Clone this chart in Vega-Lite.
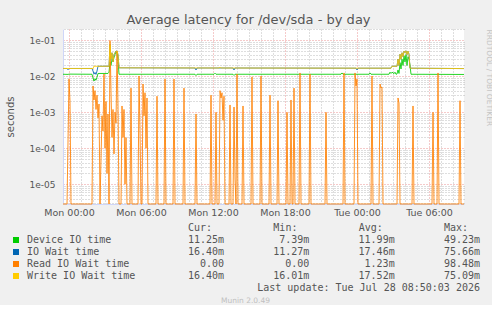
{
  "$schema": "https://vega.github.io/schema/vega-lite/v6.json",
  "background": "#F0F0F0",
  "padding": {"left": 5, "top": 14, "right": 0, "bottom": 0},
  "title": {"text": "Average latency for /dev/sda - by day", "font": "DejaVu Sans", "fontSize": 13, "fontWeight": "normal", "color": "#555555", "anchor": "middle", "frame": "bounds", "offset": 2},
  "spacing": 5,
  "resolve": {"scale": {"color": "independent"}, "legend": {"color": "independent"}},
  "datasets": {
    "lat": [
      {"t": "2026-07-26T23:30", "s": "Device IO time", "v": 0.0114},
      {"t": "2026-07-26T23:55", "s": "Device IO time", "v": 0.0113},
      {"t": "2026-07-27T00:00", "s": "Device IO time", "v": 0.0115},
      {"t": "2026-07-27T01:55", "s": "Device IO time", "v": 0.0114},
      {"t": "2026-07-27T02:00", "s": "Device IO time", "v": 0.009},
      {"t": "2026-07-27T02:05", "s": "Device IO time", "v": 0.0074},
      {"t": "2026-07-27T02:10", "s": "Device IO time", "v": 0.0085},
      {"t": "2026-07-27T02:15", "s": "Device IO time", "v": 0.0078},
      {"t": "2026-07-27T02:20", "s": "Device IO time", "v": 0.0095},
      {"t": "2026-07-27T02:25", "s": "Device IO time", "v": 0.012},
      {"t": "2026-07-27T03:15", "s": "Device IO time", "v": 0.012},
      {"t": "2026-07-27T03:20", "s": "Device IO time", "v": 0.013},
      {"t": "2026-07-27T03:25", "s": "Device IO time", "v": 0.025},
      {"t": "2026-07-27T03:30", "s": "Device IO time", "v": 0.02},
      {"t": "2026-07-27T03:35", "s": "Device IO time", "v": 0.03},
      {"t": "2026-07-27T03:40", "s": "Device IO time", "v": 0.026},
      {"t": "2026-07-27T03:45", "s": "Device IO time", "v": 0.033},
      {"t": "2026-07-27T03:50", "s": "Device IO time", "v": 0.04},
      {"t": "2026-07-27T03:55", "s": "Device IO time", "v": 0.0492},
      {"t": "2026-07-27T04:00", "s": "Device IO time", "v": 0.045},
      {"t": "2026-07-27T04:05", "s": "Device IO time", "v": 0.03},
      {"t": "2026-07-27T04:10", "s": "Device IO time", "v": 0.0114},
      {"t": "2026-07-27T10:30", "s": "Device IO time", "v": 0.0114},
      {"t": "2026-07-27T10:35", "s": "Device IO time", "v": 0.0105},
      {"t": "2026-07-27T10:40", "s": "Device IO time", "v": 0.0114},
      {"t": "2026-07-27T12:05", "s": "Device IO time", "v": 0.0114},
      {"t": "2026-07-27T12:10", "s": "Device IO time", "v": 0.0122},
      {"t": "2026-07-27T12:15", "s": "Device IO time", "v": 0.0114},
      {"t": "2026-07-27T13:40", "s": "Device IO time", "v": 0.0114},
      {"t": "2026-07-27T13:45", "s": "Device IO time", "v": 0.0106},
      {"t": "2026-07-27T13:50", "s": "Device IO time", "v": 0.0114},
      {"t": "2026-07-27T22:40", "s": "Device IO time", "v": 0.0114},
      {"t": "2026-07-27T22:45", "s": "Device IO time", "v": 0.0124},
      {"t": "2026-07-27T22:50", "s": "Device IO time", "v": 0.0114},
      {"t": "2026-07-28T01:00", "s": "Device IO time", "v": 0.0114},
      {"t": "2026-07-28T01:05", "s": "Device IO time", "v": 0.0124},
      {"t": "2026-07-28T01:10", "s": "Device IO time", "v": 0.0114},
      {"t": "2026-07-28T02:40", "s": "Device IO time", "v": 0.0114},
      {"t": "2026-07-28T02:45", "s": "Device IO time", "v": 0.013},
      {"t": "2026-07-28T02:50", "s": "Device IO time", "v": 0.012},
      {"t": "2026-07-28T02:55", "s": "Device IO time", "v": 0.013},
      {"t": "2026-07-28T03:00", "s": "Device IO time", "v": 0.0125},
      {"t": "2026-07-28T03:05", "s": "Device IO time", "v": 0.0118},
      {"t": "2026-07-28T03:10", "s": "Device IO time", "v": 0.013},
      {"t": "2026-07-28T03:15", "s": "Device IO time", "v": 0.0114},
      {"t": "2026-07-28T03:20", "s": "Device IO time", "v": 0.0116},
      {"t": "2026-07-28T03:25", "s": "Device IO time", "v": 0.015},
      {"t": "2026-07-28T03:30", "s": "Device IO time", "v": 0.012},
      {"t": "2026-07-28T03:35", "s": "Device IO time", "v": 0.024},
      {"t": "2026-07-28T03:40", "s": "Device IO time", "v": 0.016},
      {"t": "2026-07-28T03:45", "s": "Device IO time", "v": 0.03},
      {"t": "2026-07-28T03:50", "s": "Device IO time", "v": 0.02},
      {"t": "2026-07-28T03:55", "s": "Device IO time", "v": 0.037},
      {"t": "2026-07-28T04:00", "s": "Device IO time", "v": 0.025},
      {"t": "2026-07-28T04:05", "s": "Device IO time", "v": 0.04},
      {"t": "2026-07-28T04:10", "s": "Device IO time", "v": 0.02},
      {"t": "2026-07-28T04:15", "s": "Device IO time", "v": 0.035},
      {"t": "2026-07-28T04:20", "s": "Device IO time", "v": 0.03},
      {"t": "2026-07-28T04:25", "s": "Device IO time", "v": 0.02},
      {"t": "2026-07-28T04:30", "s": "Device IO time", "v": 0.0114},
      {"t": "2026-07-28T08:55", "s": "Device IO time", "v": 0.01125},

      {"t": "2026-07-26T23:30", "s": "IO Wait time", "v": 0.0165},
      {"t": "2026-07-26T23:50", "s": "IO Wait time", "v": 0.0165},
      {"t": "2026-07-26T23:55", "s": "IO Wait time", "v": 0.0152},
      {"t": "2026-07-27T00:00", "s": "IO Wait time", "v": 0.0165},
      {"t": "2026-07-27T01:55", "s": "IO Wait time", "v": 0.0165},
      {"t": "2026-07-27T02:00", "s": "IO Wait time", "v": 0.014},
      {"t": "2026-07-27T02:05", "s": "IO Wait time", "v": 0.0115},
      {"t": "2026-07-27T02:10", "s": "IO Wait time", "v": 0.0128},
      {"t": "2026-07-27T02:15", "s": "IO Wait time", "v": 0.0113},
      {"t": "2026-07-27T02:20", "s": "IO Wait time", "v": 0.014},
      {"t": "2026-07-27T02:25", "s": "IO Wait time", "v": 0.019},
      {"t": "2026-07-27T03:20", "s": "IO Wait time", "v": 0.019},
      {"t": "2026-07-27T03:25", "s": "IO Wait time", "v": 0.0757},
      {"t": "2026-07-27T03:30", "s": "IO Wait time", "v": 0.03},
      {"t": "2026-07-27T03:35", "s": "IO Wait time", "v": 0.045},
      {"t": "2026-07-27T03:40", "s": "IO Wait time", "v": 0.025},
      {"t": "2026-07-27T03:45", "s": "IO Wait time", "v": 0.04},
      {"t": "2026-07-27T03:50", "s": "IO Wait time", "v": 0.045},
      {"t": "2026-07-27T03:55", "s": "IO Wait time", "v": 0.05},
      {"t": "2026-07-27T04:00", "s": "IO Wait time", "v": 0.05},
      {"t": "2026-07-27T04:05", "s": "IO Wait time", "v": 0.04},
      {"t": "2026-07-27T04:10", "s": "IO Wait time", "v": 0.0172},
      {"t": "2026-07-27T10:30", "s": "IO Wait time", "v": 0.017},
      {"t": "2026-07-27T10:35", "s": "IO Wait time", "v": 0.015},
      {"t": "2026-07-27T10:40", "s": "IO Wait time", "v": 0.017},
      {"t": "2026-07-27T13:40", "s": "IO Wait time", "v": 0.017},
      {"t": "2026-07-27T13:45", "s": "IO Wait time", "v": 0.015},
      {"t": "2026-07-27T13:50", "s": "IO Wait time", "v": 0.017},
      {"t": "2026-07-27T23:55", "s": "IO Wait time", "v": 0.0168},
      {"t": "2026-07-28T00:00", "s": "IO Wait time", "v": 0.015},
      {"t": "2026-07-28T00:05", "s": "IO Wait time", "v": 0.0168},
      {"t": "2026-07-28T02:50", "s": "IO Wait time", "v": 0.0168},
      {"t": "2026-07-28T02:55", "s": "IO Wait time", "v": 0.019},
      {"t": "2026-07-28T03:20", "s": "IO Wait time", "v": 0.019},
      {"t": "2026-07-28T03:25", "s": "IO Wait time", "v": 0.03},
      {"t": "2026-07-28T03:30", "s": "IO Wait time", "v": 0.02},
      {"t": "2026-07-28T03:35", "s": "IO Wait time", "v": 0.041},
      {"t": "2026-07-28T03:40", "s": "IO Wait time", "v": 0.03},
      {"t": "2026-07-28T03:45", "s": "IO Wait time", "v": 0.045},
      {"t": "2026-07-28T03:50", "s": "IO Wait time", "v": 0.035},
      {"t": "2026-07-28T03:55", "s": "IO Wait time", "v": 0.05},
      {"t": "2026-07-28T04:00", "s": "IO Wait time", "v": 0.045},
      {"t": "2026-07-28T04:05", "s": "IO Wait time", "v": 0.051},
      {"t": "2026-07-28T04:10", "s": "IO Wait time", "v": 0.04},
      {"t": "2026-07-28T04:15", "s": "IO Wait time", "v": 0.05},
      {"t": "2026-07-28T04:20", "s": "IO Wait time", "v": 0.041},
      {"t": "2026-07-28T04:25", "s": "IO Wait time", "v": 0.0168},
      {"t": "2026-07-28T08:55", "s": "IO Wait time", "v": 0.0164},

      {"t": "2026-07-26T23:30", "s": "Read IO Wait time", "v": 0},
      {"t": "2026-07-26T23:50", "s": "Read IO Wait time", "v": 0},
      {"t": "2026-07-27T00:00", "s": "Read IO Wait time", "v": 0.0084},
      {"t": "2026-07-27T00:05", "s": "Read IO Wait time", "v": 0.002},
      {"t": "2026-07-27T00:10", "s": "Read IO Wait time", "v": 0},
      {"t": "2026-07-27T01:55", "s": "Read IO Wait time", "v": 0},
      {"t": "2026-07-27T02:00", "s": "Read IO Wait time", "v": 0.0054},
      {"t": "2026-07-27T02:05", "s": "Read IO Wait time", "v": 0.0022},
      {"t": "2026-07-27T02:10", "s": "Read IO Wait time", "v": 0.004},
      {"t": "2026-07-27T02:15", "s": "Read IO Wait time", "v": 0.0012},
      {"t": "2026-07-27T02:20", "s": "Read IO Wait time", "v": 0.003},
      {"t": "2026-07-27T02:25", "s": "Read IO Wait time", "v": 0.0007},
      {"t": "2026-07-27T02:30", "s": "Read IO Wait time", "v": 0.0017},
      {"t": "2026-07-27T02:35", "s": "Read IO Wait time", "v": 0},
      {"t": "2026-07-27T02:40", "s": "Read IO Wait time", "v": 0.00005},
      {"t": "2026-07-27T02:45", "s": "Read IO Wait time", "v": 0.0008},
      {"t": "2026-07-27T02:50", "s": "Read IO Wait time", "v": 0.0003},
      {"t": "2026-07-27T02:55", "s": "Read IO Wait time", "v": 0.0116},
      {"t": "2026-07-27T03:00", "s": "Read IO Wait time", "v": 0.0001},
      {"t": "2026-07-27T03:05", "s": "Read IO Wait time", "v": 0.002},
      {"t": "2026-07-27T03:10", "s": "Read IO Wait time", "v": 0.00002},
      {"t": "2026-07-27T03:15", "s": "Read IO Wait time", "v": 0.0009},
      {"t": "2026-07-27T03:20", "s": "Read IO Wait time", "v": 0},
      {"t": "2026-07-27T03:25", "s": "Read IO Wait time", "v": 0.0985},
      {"t": "2026-07-27T03:30", "s": "Read IO Wait time", "v": 0.004},
      {"t": "2026-07-27T03:35", "s": "Read IO Wait time", "v": 0.0002},
      {"t": "2026-07-27T03:40", "s": "Read IO Wait time", "v": 0.0012},
      {"t": "2026-07-27T03:45", "s": "Read IO Wait time", "v": 0.00007},
      {"t": "2026-07-27T03:50", "s": "Read IO Wait time", "v": 0.001},
      {"t": "2026-07-27T03:55", "s": "Read IO Wait time", "v": 0.0005},
      {"t": "2026-07-27T04:00", "s": "Read IO Wait time", "v": 0.05},
      {"t": "2026-07-27T04:05", "s": "Read IO Wait time", "v": 0.0015},
      {"t": "2026-07-27T04:10", "s": "Read IO Wait time", "v": 0},
      {"t": "2026-07-27T04:20", "s": "Read IO Wait time", "v": 0},
      {"t": "2026-07-27T04:25", "s": "Read IO Wait time", "v": 0.0015},
      {"t": "2026-07-27T04:30", "s": "Read IO Wait time", "v": 0.0002},
      {"t": "2026-07-27T04:35", "s": "Read IO Wait time", "v": 0.0012},
      {"t": "2026-07-27T04:40", "s": "Read IO Wait time", "v": 0.00001},
      {"t": "2026-07-27T04:45", "s": "Read IO Wait time", "v": 0.0002},
      {"t": "2026-07-27T04:50", "s": "Read IO Wait time", "v": 0},
      {"t": "2026-07-27T05:05", "s": "Read IO Wait time", "v": 0},
      {"t": "2026-07-27T05:10", "s": "Read IO Wait time", "v": 0.0047},
      {"t": "2026-07-27T05:15", "s": "Read IO Wait time", "v": 0},
      {"t": "2026-07-27T05:45", "s": "Read IO Wait time", "v": 0},
      {"t": "2026-07-27T05:50", "s": "Read IO Wait time", "v": 0.0102},
      {"t": "2026-07-27T05:55", "s": "Read IO Wait time", "v": 0.0003},
      {"t": "2026-07-27T06:00", "s": "Read IO Wait time", "v": 0},
      {"t": "2026-07-27T06:05", "s": "Read IO Wait time", "v": 0},
      {"t": "2026-07-27T06:10", "s": "Read IO Wait time", "v": 0.0061},
      {"t": "2026-07-27T06:15", "s": "Read IO Wait time", "v": 0.0008},
      {"t": "2026-07-27T06:20", "s": "Read IO Wait time", "v": 0.0035},
      {"t": "2026-07-27T06:25", "s": "Read IO Wait time", "v": 0.0001},
      {"t": "2026-07-27T06:30", "s": "Read IO Wait time", "v": 0.0025},
      {"t": "2026-07-27T06:35", "s": "Read IO Wait time", "v": 0},
      {"t": "2026-07-27T07:15", "s": "Read IO Wait time", "v": 0},
      {"t": "2026-07-27T07:20", "s": "Read IO Wait time", "v": 0.0028},
      {"t": "2026-07-27T07:25", "s": "Read IO Wait time", "v": 0},
      {"t": "2026-07-27T07:55", "s": "Read IO Wait time", "v": 0},
      {"t": "2026-07-27T08:00", "s": "Read IO Wait time", "v": 0.0084},
      {"t": "2026-07-27T08:05", "s": "Read IO Wait time", "v": 0},
      {"t": "2026-07-27T08:40", "s": "Read IO Wait time", "v": 0},
      {"t": "2026-07-27T08:45", "s": "Read IO Wait time", "v": 0.0084},
      {"t": "2026-07-27T08:50", "s": "Read IO Wait time", "v": 0},
      {"t": "2026-07-27T09:30", "s": "Read IO Wait time", "v": 0},
      {"t": "2026-07-27T09:35", "s": "Read IO Wait time", "v": 0.0047},
      {"t": "2026-07-27T09:40", "s": "Read IO Wait time", "v": 0},
      {"t": "2026-07-27T10:30", "s": "Read IO Wait time", "v": 0},
      {"t": "2026-07-27T10:35", "s": "Read IO Wait time", "v": 0.0009},
      {"t": "2026-07-27T10:40", "s": "Read IO Wait time", "v": 0},
      {"t": "2026-07-27T11:45", "s": "Read IO Wait time", "v": 0},
      {"t": "2026-07-27T11:50", "s": "Read IO Wait time", "v": 0.003},
      {"t": "2026-07-27T11:55", "s": "Read IO Wait time", "v": 0},
      {"t": "2026-07-27T12:10", "s": "Read IO Wait time", "v": 0},
      {"t": "2026-07-27T12:15", "s": "Read IO Wait time", "v": 0.001},
      {"t": "2026-07-27T12:20", "s": "Read IO Wait time", "v": 0},
      {"t": "2026-07-27T12:30", "s": "Read IO Wait time", "v": 0},
      {"t": "2026-07-27T12:35", "s": "Read IO Wait time", "v": 0.004},
      {"t": "2026-07-27T12:40", "s": "Read IO Wait time", "v": 0.0025},
      {"t": "2026-07-27T12:45", "s": "Read IO Wait time", "v": 0.0035},
      {"t": "2026-07-27T12:50", "s": "Read IO Wait time", "v": 0.0006},
      {"t": "2026-07-27T12:55", "s": "Read IO Wait time", "v": 0.0028},
      {"t": "2026-07-27T13:00", "s": "Read IO Wait time", "v": 0},
      {"t": "2026-07-27T13:20", "s": "Read IO Wait time", "v": 0},
      {"t": "2026-07-27T13:25", "s": "Read IO Wait time", "v": 0.0016},
      {"t": "2026-07-27T13:30", "s": "Read IO Wait time", "v": 0},
      {"t": "2026-07-27T13:40", "s": "Read IO Wait time", "v": 0},
      {"t": "2026-07-27T13:45", "s": "Read IO Wait time", "v": 0.0014},
      {"t": "2026-07-27T13:50", "s": "Read IO Wait time", "v": 0.000014},
      {"t": "2026-07-27T13:55", "s": "Read IO Wait time", "v": 0},
      {"t": "2026-07-27T14:00", "s": "Read IO Wait time", "v": 0.0116},
      {"t": "2026-07-27T14:05", "s": "Read IO Wait time", "v": 0},
      {"t": "2026-07-27T14:25", "s": "Read IO Wait time", "v": 0},
      {"t": "2026-07-27T14:30", "s": "Read IO Wait time", "v": 0.0015},
      {"t": "2026-07-27T14:35", "s": "Read IO Wait time", "v": 0},
      {"t": "2026-07-27T15:10", "s": "Read IO Wait time", "v": 0},
      {"t": "2026-07-27T15:15", "s": "Read IO Wait time", "v": 0.0096},
      {"t": "2026-07-27T15:20", "s": "Read IO Wait time", "v": 0},
      {"t": "2026-07-27T15:55", "s": "Read IO Wait time", "v": 0},
      {"t": "2026-07-27T16:00", "s": "Read IO Wait time", "v": 0.0102},
      {"t": "2026-07-27T16:05", "s": "Read IO Wait time", "v": 0},
      {"t": "2026-07-27T16:40", "s": "Read IO Wait time", "v": 0},
      {"t": "2026-07-27T16:45", "s": "Read IO Wait time", "v": 0.003},
      {"t": "2026-07-27T16:50", "s": "Read IO Wait time", "v": 0},
      {"t": "2026-07-27T17:20", "s": "Read IO Wait time", "v": 0},
      {"t": "2026-07-27T17:25", "s": "Read IO Wait time", "v": 0.0021},
      {"t": "2026-07-27T17:30", "s": "Read IO Wait time", "v": 0},
      {"t": "2026-07-27T18:05", "s": "Read IO Wait time", "v": 0},
      {"t": "2026-07-27T18:10", "s": "Read IO Wait time", "v": 0.001},
      {"t": "2026-07-27T18:15", "s": "Read IO Wait time", "v": 0},
      {"t": "2026-07-27T18:25", "s": "Read IO Wait time", "v": 0},
      {"t": "2026-07-27T18:30", "s": "Read IO Wait time", "v": 0.0022},
      {"t": "2026-07-27T18:35", "s": "Read IO Wait time", "v": 0},
      {"t": "2026-07-27T18:40", "s": "Read IO Wait time", "v": 0},
      {"t": "2026-07-27T18:45", "s": "Read IO Wait time", "v": 0.0047},
      {"t": "2026-07-27T18:50", "s": "Read IO Wait time", "v": 0},
      {"t": "2026-07-27T19:10", "s": "Read IO Wait time", "v": 0},
      {"t": "2026-07-27T19:15", "s": "Read IO Wait time", "v": 0.0124},
      {"t": "2026-07-27T19:20", "s": "Read IO Wait time", "v": 0},
      {"t": "2026-07-27T20:00", "s": "Read IO Wait time", "v": 0},
      {"t": "2026-07-27T20:05", "s": "Read IO Wait time", "v": 0.0116},
      {"t": "2026-07-27T20:10", "s": "Read IO Wait time", "v": 0},
      {"t": "2026-07-27T21:20", "s": "Read IO Wait time", "v": 0},
      {"t": "2026-07-27T21:25", "s": "Read IO Wait time", "v": 0.001},
      {"t": "2026-07-27T21:30", "s": "Read IO Wait time", "v": 0},
      {"t": "2026-07-27T22:50", "s": "Read IO Wait time", "v": 0},
      {"t": "2026-07-27T22:55", "s": "Read IO Wait time", "v": 0.0124},
      {"t": "2026-07-27T23:00", "s": "Read IO Wait time", "v": 0},
      {"t": "2026-07-27T23:45", "s": "Read IO Wait time", "v": 0},
      {"t": "2026-07-27T23:50", "s": "Read IO Wait time", "v": 0.0124},
      {"t": "2026-07-27T23:55", "s": "Read IO Wait time", "v": 0.0054},
      {"t": "2026-07-28T00:00", "s": "Read IO Wait time", "v": 0.0084},
      {"t": "2026-07-28T00:05", "s": "Read IO Wait time", "v": 0},
      {"t": "2026-07-28T01:10", "s": "Read IO Wait time", "v": 0},
      {"t": "2026-07-28T01:15", "s": "Read IO Wait time", "v": 0.0102},
      {"t": "2026-07-28T01:20", "s": "Read IO Wait time", "v": 0},
      {"t": "2026-07-28T01:50", "s": "Read IO Wait time", "v": 0},
      {"t": "2026-07-28T01:55", "s": "Read IO Wait time", "v": 0.0061},
      {"t": "2026-07-28T02:00", "s": "Read IO Wait time", "v": 0.0047},
      {"t": "2026-07-28T02:05", "s": "Read IO Wait time", "v": 0.005},
      {"t": "2026-07-28T02:10", "s": "Read IO Wait time", "v": 0},
      {"t": "2026-07-28T03:20", "s": "Read IO Wait time", "v": 0},
      {"t": "2026-07-28T03:25", "s": "Read IO Wait time", "v": 0.0025},
      {"t": "2026-07-28T03:30", "s": "Read IO Wait time", "v": 0.0018},
      {"t": "2026-07-28T03:35", "s": "Read IO Wait time", "v": 0},
      {"t": "2026-07-28T04:35", "s": "Read IO Wait time", "v": 0},
      {"t": "2026-07-28T04:40", "s": "Read IO Wait time", "v": 0.0015},
      {"t": "2026-07-28T04:45", "s": "Read IO Wait time", "v": 0},
      {"t": "2026-07-28T06:15", "s": "Read IO Wait time", "v": 0},
      {"t": "2026-07-28T06:20", "s": "Read IO Wait time", "v": 0.001},
      {"t": "2026-07-28T06:25", "s": "Read IO Wait time", "v": 0},
      {"t": "2026-07-28T06:40", "s": "Read IO Wait time", "v": 0},
      {"t": "2026-07-28T06:45", "s": "Read IO Wait time", "v": 0.0124},
      {"t": "2026-07-28T06:50", "s": "Read IO Wait time", "v": 0},
      {"t": "2026-07-28T08:30", "s": "Read IO Wait time", "v": 0},
      {"t": "2026-07-28T08:35", "s": "Read IO Wait time", "v": 0.0021},
      {"t": "2026-07-28T08:40", "s": "Read IO Wait time", "v": 0},
      {"t": "2026-07-28T08:55", "s": "Read IO Wait time", "v": 0},

      {"t": "2026-07-26T23:30", "s": "Write IO Wait time", "v": 0.0165},
      {"t": "2026-07-27T02:00", "s": "Write IO Wait time", "v": 0.0165},
      {"t": "2026-07-27T02:05", "s": "Write IO Wait time", "v": 0.019},
      {"t": "2026-07-27T03:20", "s": "Write IO Wait time", "v": 0.019},
      {"t": "2026-07-27T03:25", "s": "Write IO Wait time", "v": 0.0751},
      {"t": "2026-07-27T03:30", "s": "Write IO Wait time", "v": 0.03},
      {"t": "2026-07-27T03:35", "s": "Write IO Wait time", "v": 0.045},
      {"t": "2026-07-27T03:40", "s": "Write IO Wait time", "v": 0.025},
      {"t": "2026-07-27T03:45", "s": "Write IO Wait time", "v": 0.04},
      {"t": "2026-07-27T03:50", "s": "Write IO Wait time", "v": 0.045},
      {"t": "2026-07-27T03:55", "s": "Write IO Wait time", "v": 0.05},
      {"t": "2026-07-27T04:00", "s": "Write IO Wait time", "v": 0.05},
      {"t": "2026-07-27T04:05", "s": "Write IO Wait time", "v": 0.04},
      {"t": "2026-07-27T04:10", "s": "Write IO Wait time", "v": 0.0172},
      {"t": "2026-07-27T12:30", "s": "Write IO Wait time", "v": 0.017},
      {"t": "2026-07-27T12:35", "s": "Write IO Wait time", "v": 0.0178},
      {"t": "2026-07-27T12:40", "s": "Write IO Wait time", "v": 0.017},
      {"t": "2026-07-28T02:50", "s": "Write IO Wait time", "v": 0.0168},
      {"t": "2026-07-28T02:55", "s": "Write IO Wait time", "v": 0.019},
      {"t": "2026-07-28T03:20", "s": "Write IO Wait time", "v": 0.019},
      {"t": "2026-07-28T03:25", "s": "Write IO Wait time", "v": 0.03},
      {"t": "2026-07-28T03:30", "s": "Write IO Wait time", "v": 0.02},
      {"t": "2026-07-28T03:35", "s": "Write IO Wait time", "v": 0.041},
      {"t": "2026-07-28T03:40", "s": "Write IO Wait time", "v": 0.03},
      {"t": "2026-07-28T03:45", "s": "Write IO Wait time", "v": 0.045},
      {"t": "2026-07-28T03:50", "s": "Write IO Wait time", "v": 0.035},
      {"t": "2026-07-28T03:55", "s": "Write IO Wait time", "v": 0.05},
      {"t": "2026-07-28T04:00", "s": "Write IO Wait time", "v": 0.045},
      {"t": "2026-07-28T04:05", "s": "Write IO Wait time", "v": 0.051},
      {"t": "2026-07-28T04:10", "s": "Write IO Wait time", "v": 0.04},
      {"t": "2026-07-28T04:15", "s": "Write IO Wait time", "v": 0.05},
      {"t": "2026-07-28T04:20", "s": "Write IO Wait time", "v": 0.041},
      {"t": "2026-07-28T04:25", "s": "Write IO Wait time", "v": 0.0168},
      {"t": "2026-07-28T08:55", "s": "Write IO Wait time", "v": 0.0164}
    ],
    "stats": [
      {"series": "Device IO time", "cur": 0.01125, "min": 0.00739, "avg": 0.01199, "max": 0.04923},
      {"series": "IO Wait time", "cur": 0.0164, "min": 0.01127, "avg": 0.01746, "max": 0.07566},
      {"series": "Read IO Wait time", "cur": 0, "min": 0, "avg": 0.00123, "max": 0.09848},
      {"series": "Write IO Wait time", "cur": 0.0164, "min": 0.01601, "avg": 0.01752, "max": 0.07509}
    ],
    "heads": [
      {"stat": "cur", "head": "Cur:"},
      {"stat": "min", "head": "Min:"},
      {"stat": "avg", "head": "Avg:"},
      {"stat": "max", "head": "Max:"}
    ],
    "notes": [
      {"kind": "upd", "text": "Last update: Tue Jul 28 08:50:03 2026"}
    ]
  },
  "vconcat": [
    {
      "width": 401,
      "height": 175,
      "view": {"fill": "#FFFFFF", "stroke": null},
      "data": {"name": "lat"},
      "layer": [
        {
          "mark": {"type": "line", "opacity": 0},
          "encoding": {
            "x": {
              "field": "t", "type": "temporal",
              "scale": {"nice": false, "domain": [{"year": 2026, "month": 7, "date": 26, "hours": 23, "minutes": 30}, {"year": 2026, "month": 7, "date": 28, "hours": 8, "minutes": 55}]},
              "axis": {
                "orient": "top", "labels": false, "ticks": false, "domain": false, "title": null,
                "grid": true, "gridColor": "#8f8f8f", "gridOpacity": 0.6, "gridDash": [1, 2],
                "values": [
                  {"year": 2026, "month": 7, "date": 27, "hours": 1}, {"year": 2026, "month": 7, "date": 27, "hours": 2},
                  {"year": 2026, "month": 7, "date": 27, "hours": 3}, {"year": 2026, "month": 7, "date": 27, "hours": 4},
                  {"year": 2026, "month": 7, "date": 27, "hours": 5}, {"year": 2026, "month": 7, "date": 27, "hours": 7},
                  {"year": 2026, "month": 7, "date": 27, "hours": 8}, {"year": 2026, "month": 7, "date": 27, "hours": 9},
                  {"year": 2026, "month": 7, "date": 27, "hours": 10}, {"year": 2026, "month": 7, "date": 27, "hours": 11},
                  {"year": 2026, "month": 7, "date": 27, "hours": 13}, {"year": 2026, "month": 7, "date": 27, "hours": 14},
                  {"year": 2026, "month": 7, "date": 27, "hours": 15}, {"year": 2026, "month": 7, "date": 27, "hours": 16},
                  {"year": 2026, "month": 7, "date": 27, "hours": 17}, {"year": 2026, "month": 7, "date": 27, "hours": 19},
                  {"year": 2026, "month": 7, "date": 27, "hours": 20}, {"year": 2026, "month": 7, "date": 27, "hours": 21},
                  {"year": 2026, "month": 7, "date": 27, "hours": 22}, {"year": 2026, "month": 7, "date": 27, "hours": 23},
                  {"year": 2026, "month": 7, "date": 28, "hours": 1}, {"year": 2026, "month": 7, "date": 28, "hours": 2},
                  {"year": 2026, "month": 7, "date": 28, "hours": 3}, {"year": 2026, "month": 7, "date": 28, "hours": 4},
                  {"year": 2026, "month": 7, "date": 28, "hours": 5}, {"year": 2026, "month": 7, "date": 28, "hours": 7},
                  {"year": 2026, "month": 7, "date": 28, "hours": 8}
                ]
              }
            },
            "y": {
              "field": "v", "type": "quantitative",
              "scale": {"type": "log", "nice": false, "domain": [0.00000284, 0.206], "clamp": true},
              "axis": {
                "orient": "right", "labels": false, "ticks": false, "domain": false,
                "grid": true, "gridColor": "#8f8f8f", "gridOpacity": 0.6, "gridDash": [1, 2],
                "values": [0.000003, 0.000004, 0.000005, 0.000006, 0.000007, 0.000008, 0.000009,
                           0.00002, 0.00003, 0.00004, 0.00005, 0.00006, 0.00007, 0.00008, 0.00009,
                           0.0002, 0.0003, 0.0004, 0.0005, 0.0006, 0.0007, 0.0008, 0.0009,
                           0.002, 0.003, 0.004, 0.005, 0.006, 0.007, 0.008, 0.009,
                           0.02, 0.03, 0.04, 0.05, 0.06, 0.07, 0.08, 0.09, 0.2],
                "title": "RRDTOOL / TOBI OETIKER", "titleFont": "DejaVu Sans", "titleFontSize": 7.5, "titleFontWeight": "normal",
                "titleColor": "#c4c4c4", "titleAngle": 90, "titleAnchor": "end", "titleAlign": "left", "titleBaseline": "middle", "titlePadding": 24
              }
            }
          }
        },
        {
          "mark": {"type": "line", "strokeWidth": 0.85, "invalid": "show"},
          "encoding": {
            "x": {
              "field": "t", "type": "temporal",
              "scale": {"nice": false, "domain": [{"year": 2026, "month": 7, "date": 26, "hours": 23, "minutes": 30}, {"year": 2026, "month": 7, "date": 28, "hours": 8, "minutes": 55}]},
              "axis": {
                "orient": "bottom", "format": "%a %H:%M", "title": null,
                "labelFont": "DejaVu Sans", "labelFontSize": 9.5, "labelColor": "#555555", "labelPadding": 3, "labelFlush": false,
                "ticks": false, "domain": true, "domainColor": "#CFD6F8",
                "grid": true, "gridColor": "#de4f4f", "gridOpacity": 0.6, "gridDash": [1, 2],
                "values": [
                  {"year": 2026, "month": 7, "date": 27, "hours": 0}, {"year": 2026, "month": 7, "date": 27, "hours": 6},
                  {"year": 2026, "month": 7, "date": 27, "hours": 12}, {"year": 2026, "month": 7, "date": 27, "hours": 18},
                  {"year": 2026, "month": 7, "date": 28, "hours": 0}, {"year": 2026, "month": 7, "date": 28, "hours": 6}
                ]
              }
            },
            "y": {
              "field": "v", "type": "quantitative",
              "scale": {"type": "log", "nice": false, "domain": [0.00000284, 0.206], "clamp": true},
              "axis": {
                "orient": "left", "values": [0.00001, 0.0001, 0.001, 0.01, 0.1],
                "labelExpr": "'1e-0' + round(-log(datum.value) / LN10)",
                "labelFont": "DejaVu Sans", "labelFontSize": 9, "labelColor": "#555555", "labelPadding": 8,
                "ticks": false, "domain": true, "domainColor": "#CFD6F8",
                "grid": true, "gridColor": "#de4f4f", "gridOpacity": 0.6, "gridDash": [1, 2],
                "title": "seconds", "titleFont": "DejaVu Sans", "titleFontSize": 10, "titleFontWeight": "normal", "titleColor": "#555555", "titlePadding": 14
              }
            },
            "color": {
              "field": "s", "type": "nominal",
              "scale": {"domain": ["Device IO time", "IO Wait time", "Read IO Wait time", "Write IO Wait time"], "range": ["#00CC00", "#0066B3", "#FF8000", "#FFCC00"]},
              "legend": null
            }
          }
        }
      ],
      "resolve": {"axis": {"x": "independent", "y": "independent"}}
    },
    {
      "width": 417,
      "height": 66,
      "view": {"fill": "#F0F0F0", "stroke": null},
      "title": {"text": "Munin 2.0.49", "orient": "bottom", "anchor": "middle", "frame": "bounds", "font": "DejaVu Sans", "fontSize": 7.5, "fontWeight": "normal", "color": "#c0c0c0", "offset": 4},
      "layer": [
        {
          "data": {"name": "stats"},
          "mark": {"type": "square", "opacity": 0, "filled": true},
          "encoding": {
            "color": {
              "field": "series", "type": "nominal",
              "scale": {"domain": ["Device IO time", "IO Wait time", "Read IO Wait time", "Write IO Wait time"], "range": ["#00CC00", "#0066B3", "#FF8000", "#FFCC00"]},
              "legend": {
                "orient": "none", "legendX": -52, "legendY": 9, "title": null, "padding": 0,
                "symbolType": "square", "symbolSize": 36, "symbolOpacity": 1, "symbolStrokeWidth": 0,
                "labelFont": "DejaVu Sans Mono", "labelFontSize": 10, "labelColor": "#555555", "labelOffset": 6, "rowPadding": 2
              }
            }
          }
        },
        {
          "data": {"name": "stats"},
          "transform": [
            {"fold": ["cur", "min", "avg", "max"], "as": ["stat", "value"]},
            {"calculate": "datum.value == 0 ? '0.00\u00a0' : format(datum.value * 1000, '.2f') + 'm'", "as": "label"}
          ],
          "mark": {"type": "text", "align": "right", "baseline": "middle", "font": "DejaVu Sans Mono", "fontSize": 10, "color": "#555555"},
          "encoding": {
            "x": {"field": "stat", "type": "nominal", "scale": {"type": "point", "domain": ["cur", "min", "avg", "max"], "padding": 0.9434, "align": 1}, "axis": null},
            "y": {"field": "series", "type": "nominal", "scale": {"type": "point", "domain": ["hdr", "Device IO time", "IO Wait time", "Read IO Wait time", "Write IO Wait time", "upd"], "padding": 0.25, "align": 0.3333}, "axis": null},
            "text": {"field": "label"}
          }
        },
        {
          "data": {"name": "heads"},
          "mark": {"type": "text", "align": "left", "dx": -36, "baseline": "middle", "font": "DejaVu Sans Mono", "fontSize": 10, "color": "#555555"},
          "encoding": {
            "x": {"field": "stat", "type": "nominal"},
            "y": {"datum": "hdr"},
            "text": {"field": "head"}
          }
        },
        {
          "data": {"name": "notes"},
          "mark": {"type": "text", "align": "right", "baseline": "middle", "font": "DejaVu Sans Mono", "fontSize": 10, "color": "#555555"},
          "encoding": {
            "x": {"datum": "max"},
            "y": {"field": "kind", "type": "nominal"},
            "text": {"field": "text"}
          }
        }
      ]
    }
  ],
  "config": {
    "font": "DejaVu Sans",
    "view": {"stroke": null},
    "axis": {"labelFont": "DejaVu Sans", "titleFont": "DejaVu Sans"}
  }
}
